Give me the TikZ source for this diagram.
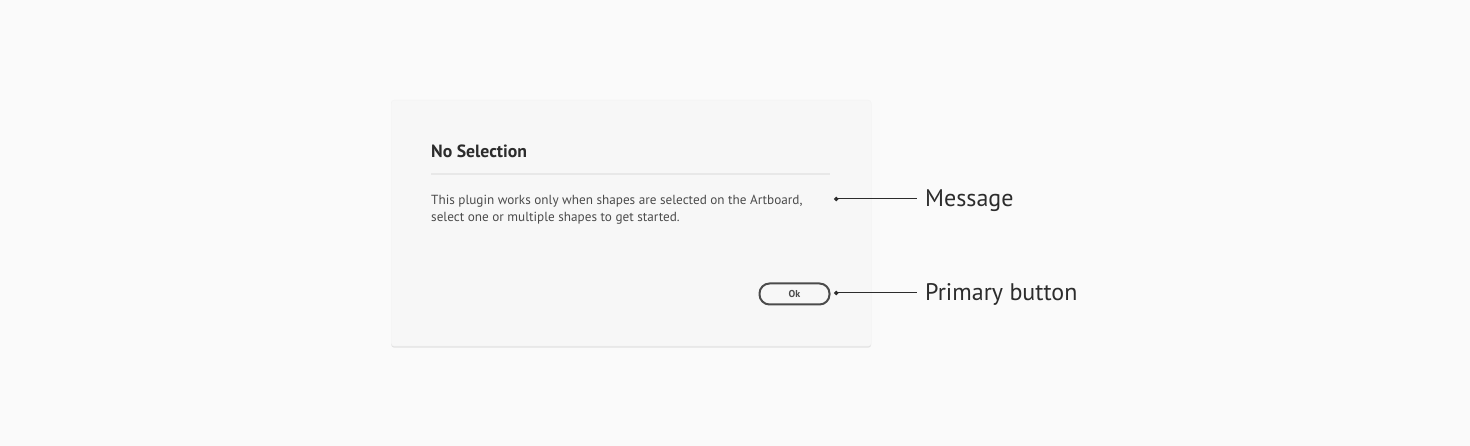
\documentclass[tikz,border=0pt]{standalone}
\usepackage{fontspec}
\setmainfont{PT Sans}
\usetikzlibrary{positioning,shadows,arrows.meta}
\definecolor{bg}{HTML}{FAFAFA}
\definecolor{panel}{HTML}{F7F7F7}
\definecolor{ink}{HTML}{4B4B4B}
\definecolor{rulecol}{HTML}{E8E8E8}
\definecolor{dark}{HTML}{2C2C2C}
\tikzset{
  callout/.style={font=\fontsize{24}{28}\selectfont, text=dark, anchor=base west, inner xsep=8pt, inner ysep=0pt},
  pin/.style={draw=dark, line width=1pt, {Circle[length=4.5pt]}-},
  body/.style={font=\fontsize{13.2}{17}\selectfont, text=ink, anchor=base west, inner sep=0pt},
}
\begin{document}
\begin{tikzpicture}[x=1pt,y=-1pt]
  \fill[bg] (0,0) rectangle (1470,446);
  \useasboundingbox (0,0) rectangle (1470,446);
  % dialog
  \node[fill=panel, draw=black!5, rounded corners=3pt, minimum width=480pt, minimum height=246pt, anchor=north west,
        drop shadow={shadow xshift=0pt, shadow yshift=-1.5pt, opacity=0.2}] (dlg) at (391,100) {};
  \node[anchor=base west, inner sep=0pt, font=\bfseries\fontsize{17.7}{20}\selectfont, text=dark] (head) at (431,158) {No Selection};
  \draw[rulecol, line width=2pt] (431,174) -- (830,174);
  \node[body] (msga) at (431,205) {This plugin works only when shapes are selected on the Artboard,};
  \node[body] (msgb) at (431,222) {select one or multiple shapes to get started.};
  \node[draw=ink, line width=2pt, rounded corners=10pt, minimum width=70pt, minimum height=21pt, inner sep=0pt,
        font=\bfseries\fontsize{10}{12}\selectfont, text=ink] (ok) at (794.5,294) {Ok};
  % callouts
  \coordinate (pm) at (834,199);
  \coordinate (pb) at (834,293);
  \node[callout] (lmsg) at (917,207) {Message};
  \node[callout] (lbtn) at (917,301) {Primary button};
  \draw[pin] (pm) -- (lmsg.west |- pm);
  \draw[pin] (pb) -- (lbtn.west |- pb);
\end{tikzpicture}
\end{document}
